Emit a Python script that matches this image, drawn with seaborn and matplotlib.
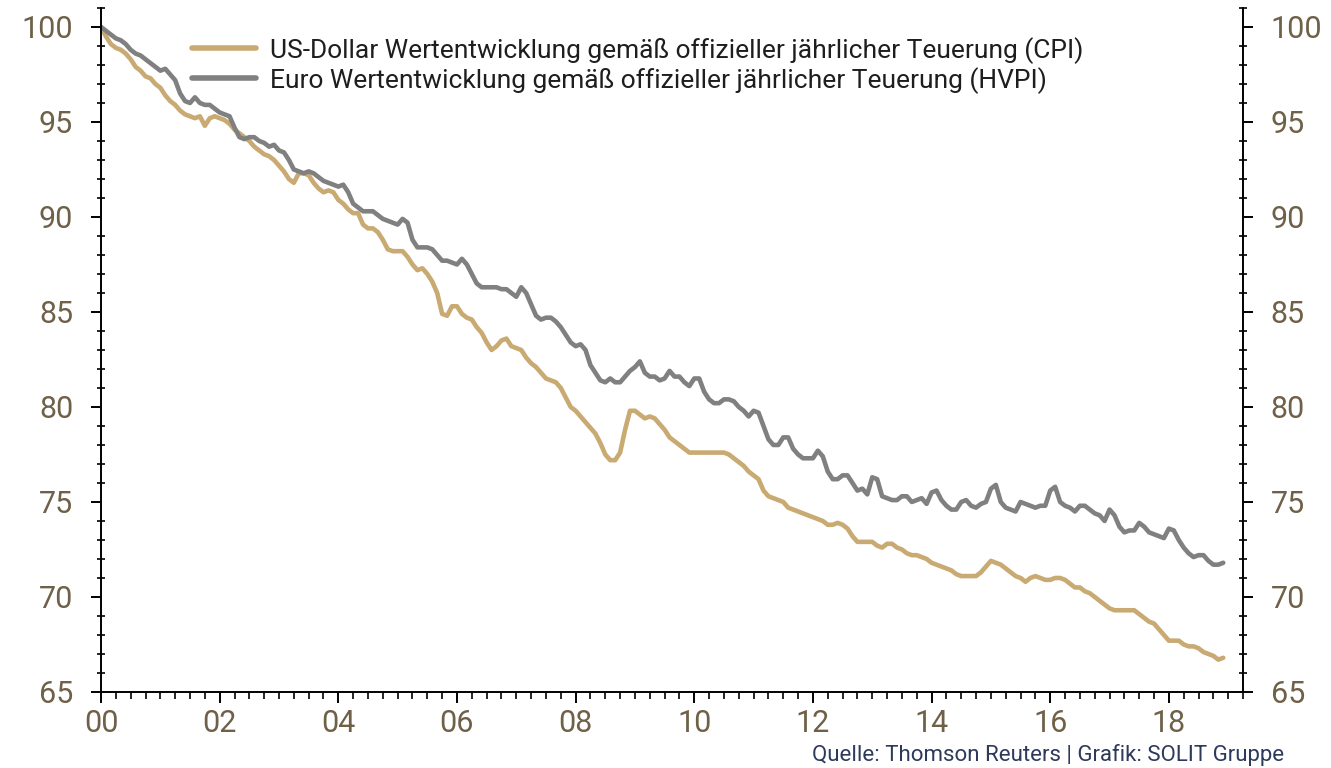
import numpy as np
import pandas as pd
import matplotlib
matplotlib.use("Agg")
import matplotlib.pyplot as plt
from matplotlib.ticker import MultipleLocator, FuncFormatter
import seaborn as sns

# Monthly values, Jan 2000 .. Dec 2018 (index, 2000-01 = 100)
us_cpi = [
    100.0, 99.5, 99.1, 98.9, 98.8, 98.6, 98.3, 97.9, 97.7, 97.4, 97.3, 97.0,
    96.8, 96.4, 96.1, 95.9, 95.6, 95.4, 95.3, 95.2, 95.3, 94.8, 95.2, 95.3,
    95.2, 95.1, 94.9, 94.6, 94.4, 94.2, 94.0, 93.7, 93.5, 93.3, 93.2, 93.0,
    92.7, 92.4, 92.0, 91.8, 92.3, 92.3, 92.2, 91.8, 91.5, 91.3, 91.4, 91.3,
    90.9, 90.7, 90.4, 90.2, 90.2, 89.6, 89.4, 89.4, 89.2, 88.8, 88.3, 88.2,
    88.2, 88.2, 87.9, 87.5, 87.2, 87.3, 87.0, 86.6, 86.0, 84.9, 84.8, 85.3,
    85.3, 84.9, 84.7, 84.6, 84.2, 83.9, 83.4, 83.0, 83.2, 83.5, 83.6, 83.2,
    83.1, 83.0, 82.6, 82.3, 82.1, 81.8, 81.5, 81.4, 81.3, 81.0, 80.5, 80.0,
    79.8, 79.5, 79.2, 78.9, 78.6, 78.1, 77.5, 77.2, 77.2, 77.6, 78.8, 79.8,
    79.8, 79.6, 79.4, 79.5, 79.4, 79.1, 78.8, 78.4, 78.2, 78.0, 77.8, 77.6,
    77.6, 77.6, 77.6, 77.6, 77.6, 77.6, 77.6, 77.5, 77.3, 77.1, 76.9, 76.6,
    76.4, 76.2, 75.6, 75.3, 75.2, 75.1, 75.0, 74.7, 74.6, 74.5, 74.4, 74.3,
    74.2, 74.1, 74.0, 73.8, 73.8, 73.9, 73.8, 73.6, 73.2, 72.9, 72.9, 72.9,
    72.9, 72.7, 72.6, 72.8, 72.8, 72.6, 72.5, 72.3, 72.2, 72.2, 72.1, 72.0,
    71.8, 71.7, 71.6, 71.5, 71.4, 71.2, 71.1, 71.1, 71.1, 71.1, 71.3, 71.6,
    71.9, 71.8, 71.7, 71.5, 71.3, 71.1, 71.0, 70.8, 71.0, 71.1, 71.0, 70.9,
    70.9, 71.0, 71.0, 70.9, 70.7, 70.5, 70.5, 70.3, 70.2, 70.0, 69.8, 69.6,
    69.4, 69.3, 69.3, 69.3, 69.3, 69.3, 69.1, 68.9, 68.7, 68.6, 68.3, 68.0,
    67.7, 67.7, 67.7, 67.5, 67.4, 67.4, 67.3, 67.1, 67.0, 66.9, 66.7, 66.8,
]
euro_hvpi = [
    100.0, 99.8, 99.6, 99.4, 99.3, 99.1, 98.8, 98.6, 98.5, 98.3, 98.1, 97.9,
    97.7, 97.8, 97.5, 97.2, 96.5, 96.1, 96.0, 96.3, 96.0, 95.9, 95.9, 95.7,
    95.5, 95.4, 95.3, 94.7, 94.2, 94.1, 94.2, 94.2, 94.0, 93.9, 93.7, 93.8,
    93.5, 93.4, 93.0, 92.5, 92.4, 92.3, 92.4, 92.3, 92.1, 91.9, 91.8, 91.7,
    91.6, 91.7, 91.3, 90.7, 90.5, 90.3, 90.3, 90.3, 90.1, 89.9, 89.8, 89.7,
    89.6, 89.9, 89.7, 88.8, 88.4, 88.4, 88.4, 88.3, 88.0, 87.7, 87.7, 87.6,
    87.5, 87.8, 87.5, 87.0, 86.5, 86.3, 86.3, 86.3, 86.3, 86.2, 86.2, 86.0,
    85.8, 86.3, 86.0, 85.4, 84.8, 84.6, 84.7, 84.7, 84.5, 84.2, 83.8, 83.4,
    83.2, 83.3, 83.0, 82.2, 81.8, 81.4, 81.3, 81.5, 81.3, 81.3, 81.6, 81.9,
    82.1, 82.4, 81.8, 81.6, 81.6, 81.4, 81.5, 81.9, 81.6, 81.6, 81.3, 81.1,
    81.5, 81.5, 80.8, 80.4, 80.2, 80.2, 80.4, 80.4, 80.3, 80.0, 79.8, 79.5,
    79.8, 79.7, 79.0, 78.3, 78.0, 78.0, 78.4, 78.4, 77.8, 77.5, 77.3, 77.3,
    77.3, 77.7, 77.4, 76.6, 76.2, 76.2, 76.4, 76.4, 76.0, 75.6, 75.7, 75.4,
    76.3, 76.2, 75.3, 75.2, 75.1, 75.1, 75.3, 75.3, 75.0, 75.1, 75.2, 74.9,
    75.5, 75.6, 75.1, 74.8, 74.6, 74.6, 75.0, 75.1, 74.8, 74.7, 74.9, 75.0,
    75.7, 75.9, 75.0, 74.7, 74.6, 74.5, 75.0, 74.9, 74.8, 74.7, 74.8, 74.8,
    75.6, 75.8, 75.0, 74.8, 74.7, 74.5, 74.8, 74.8, 74.6, 74.4, 74.3, 74.0,
    74.6, 74.3, 73.7, 73.4, 73.5, 73.5, 73.9, 73.7, 73.4, 73.3, 73.2, 73.1,
    73.6, 73.5, 73.0, 72.6, 72.3, 72.1, 72.2, 72.2, 71.9, 71.7, 71.7, 71.8,
]
start_year = 2000
series_labels = [
    "US-Dollar Wertentwicklung gemäß offizieller jährlicher Teuerung (CPI)",
    "Euro Wertentwicklung gemäß offizieller jährlicher Teuerung (HVPI)",
]
x_ticks = list(range(2000, 2019, 2))
y_ticks = [65, 70, 75, 80, 85, 90, 95, 100]
source_text = "Quelle: Thomson Reuters | Grafik: SOLIT Gruppe"

n = len(us_cpi)
t = start_year + np.arange(n) / 12.0
df = pd.DataFrame({
    "t": np.concatenate([t, t]),
    "value": us_cpi + euro_hvpi,
    "series": [series_labels[0]] * n + [series_labels[1]] * n,
})

sns.set_style("white")
plt.rcParams["font.family"] = ["Roboto", "DejaVu Sans"]

gold = "#c8aa72"
grey = "#808080"
label_color = "#6f6048"

fig = plt.figure(figsize=(13.31, 7.68), dpi=100)
ax = fig.add_axes([0.0759, 0.099, 0.858, 0.8906])

sns.lineplot(data=df, x="t", y="value", hue="series",
             palette={series_labels[0]: gold, series_labels[1]: grey},
             linewidth=3.3, ax=ax, legend=True)

ax.set_xlim(2000, 2019.25)
ax.set_ylim(65, 101)
ax.set_xlabel("")
ax.set_ylabel("")

ax.set_xticks(x_ticks)
ax.xaxis.set_minor_locator(MultipleLocator(0.25))
ax.xaxis.set_major_formatter(FuncFormatter(lambda v, p: f"{int(round(v)) % 100:02d}"))
ax.set_yticks(y_ticks)
ax.yaxis.set_minor_locator(MultipleLocator(1))

for s in ["left", "right", "bottom"]:
    ax.spines[s].set_visible(True)
    ax.spines[s].set_color("black")
    ax.spines[s].set_linewidth(1.4)
ax.spines["top"].set_visible(False)

ax.tick_params(axis="x", which="major", direction="out", length=8, width=1.4,
               color="black", labelsize=22, labelcolor=label_color, pad=4, bottom=True)
ax.tick_params(axis="x", which="minor", direction="out", length=5, width=1.2,
               color="black", bottom=True)
ax.tick_params(axis="y", which="major", direction="out", length=7, width=1.4,
               color="black", labelsize=22, labelcolor=label_color, pad=13,
               left=True, right=True, labelleft=True, labelright=True)
ax.tick_params(axis="y", which="minor", direction="inout", length=6, width=1.2,
               color="black", left=True, right=True)

leg = ax.legend(loc="upper left", bbox_to_anchor=(0.08, 0.958), frameon=False,
                fontsize=19, handlelength=2.4, handletextpad=0.55,
                labelspacing=0.12, borderpad=0, borderaxespad=0)
for line in leg.get_lines():
    line.set_linewidth(4)
for txt in leg.get_texts():
    txt.set_color("#1e1e1e")

fig.text(0.965, 0.002, source_text, ha="right", va="bottom", fontsize=16,
         color="#2e3a5c")

fig.savefig("out.png", dpi=100)
